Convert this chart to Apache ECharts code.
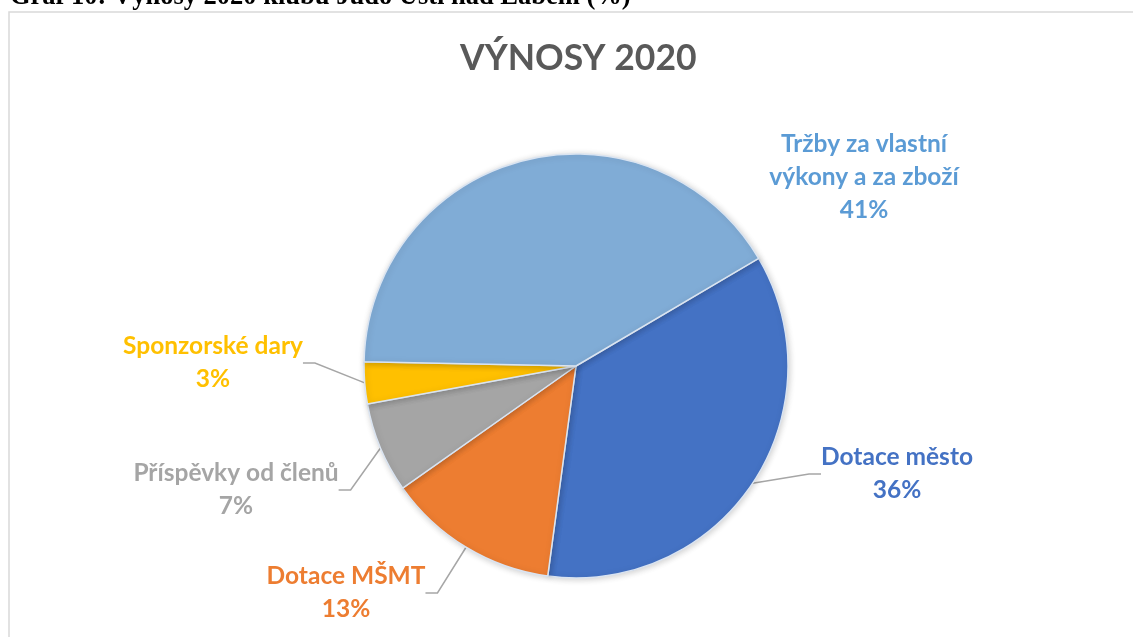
<!DOCTYPE html>
<html>
<head>
<meta charset="utf-8">
<title>Výnosy 2020</title>
<script src="https://cdn.jsdelivr.net/npm/echarts@6/dist/echarts.min.js"></script>
<style>
  html, body { margin: 0; padding: 0; background: #fff; }
  #chart { width: 1133px; height: 637px; }
</style>
</head>
<body>
<div id="chart"></div>
<script>
// kategorie ve směru hodinových ručiček, začíná "Dotace město"
const categories = [
  'Dotace město',
  'Dotace MŠMT',
  'Příspěvky od členů',
  'Sponzorské dary',
  'Tržby za vlastní\nvýkony a za zboží'
]
const shares = [35.6, 13.1, 6.9, 3.2, 41.2]

const sliceColors = ['#4472C4', '#ED7D31', '#A5A5A5', '#FFC000', '#80ACD6']
const textColors = ['#4472C4', '#ED7D31', '#A5A5A5', '#FFC000', '#5B9BD5']
// středy popisků (px), Excel je měl ručně posunuté
const labelCenters = [[897, 474], [346, 593], [236, 490], [213, 363], [864, 177]]

const chart = echarts.init(document.getElementById('chart'), null, { renderer: 'canvas' })

chart.setOption({
  animation: false,
  backgroundColor: '#fff',
  title: {
    text: 'VÝNOSY 2020',
    left: 455,
    top: 36,
    textStyle: {
      fontFamily: 'Lato',
      fontWeight: 'bold',
      fontSize: 35.5,
      color: '#595959'
    }
  },
  graphic: [
    {
      type: 'rect',
      shape: { x: 9, y: 12, width: 1200, height: 700 },
      style: { fill: null, stroke: '#d9d9d9', lineWidth: 1.5 },
      silent: true
    },
    {
      type: 'text',
      x: 10,
      y: -3,
      style: {
        text: 'Graf 10: Výnosy 2020 klubu Judo Ústí nad Labem (%)',
        font: 'bold 26.5px "Liberation Serif"',
        fill: '#000',
        verticalAlign: 'middle'
      },
      silent: true
    }
  ],
  series: [
    {
      type: 'pie',
      center: [576, 366],
      radius: 212,
      startAngle: 30.5,
      clockwise: true,
      avoidLabelOverlap: false,
      itemStyle: {
        borderColor: '#dae4f1',
        borderWidth: 1.5,
        shadowBlur: 6,
        shadowColor: 'rgba(0, 0, 0, 0.18)',
        shadowOffsetX: 1,
        shadowOffsetY: 1
      },
      label: {
        show: true,
        position: 'outside',
        formatter: '{b}\n{d}%',
        fontFamily: 'Lato',
        fontWeight: 'bold',
        fontSize: 24.5,
        lineHeight: 33
      },
      percentPrecision: 0,
      labelLine: {
        show: true,
        length: 20,
        length2: 12,
        lineStyle: { color: '#a6a6a6', width: 1.5 }
      },
      labelLayout: function (params) {
        const p = labelCenters[params.dataIndex]
        return { x: p[0], y: p[1], align: 'center', verticalAlign: 'middle' }
      },
      emphasis: { disabled: true },
      data: categories.map((name, i) => {
        return {
          name: name,
          value: shares[i],
          itemStyle: { color: sliceColors[i] },
          label: { color: textColors[i] },
          // u tržeb Excel spojnici nekreslí
          labelLine: { show: i !== 4 }
        }
      })
    }
  ]
})
</script>
</body>
</html>
